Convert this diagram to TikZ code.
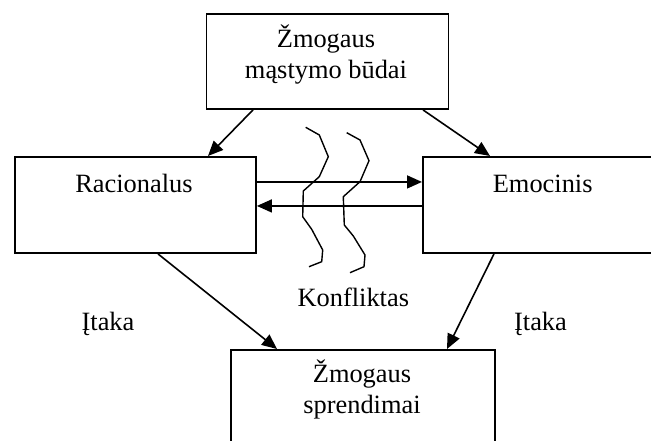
\documentclass[tikz,border=0pt]{standalone}
\usepackage{fontspec}
\setmainfont{Liberation Serif}
\usetikzlibrary{arrows.meta,calc}
\begin{document}
\begin{tikzpicture}[x=1pt,y=-1pt,
  box/.style={draw,line width=1.9pt,inner sep=0pt,anchor=north west},
  txt/.style={anchor=base,inner sep=0pt,font=\fontsize{26.4}{31}\selectfont},
  arr/.style={line width=1.6pt,-{Triangle[length=15pt,width=13pt]}},
  wave/.style={line width=1.4pt,line join=miter}]
\useasboundingbox (0,0) rectangle (651,441);
\clip (0,0) rectangle (651,441);

% boxes
\node[box,minimum width=242pt,minimum height=95pt] (top) at (205.5,13) {};
\node[box,minimum width=241pt,minimum height=96pt] (rac) at (14,156) {};
\node[box,minimum width=260pt,minimum height=96pt] (emo) at (422,156) {};
\node[box,minimum width=264pt,minimum height=130pt] (dec) at (230,349) {};

% box texts
\node[txt] (topA) at (326,48) {Žmogaus};
\node[txt] (topB) at (326,78.5) {mąstymo būdai};
\node[txt] (racT) at (134,192.3) {Racionalus};
\node[txt] (emoT) at (542.7,192.3) {Emocinis};
\node[txt] (decA) at (362,382) {Žmogaus};
\node[txt] (decB) at (362,413) {sprendimai};

% free labels
\node[txt] (konf) at (353.3,306) {Konfliktas};
\node[txt] (itL) at (108,330) {Įtaka};
\node[txt] (itR) at (540.5,330) {Įtaka};

% connectors
\draw[arr] ($(top.south west)+(47.5,0)$) -- ($(rac.north west)+(194,0)$);
\draw[arr] ($(top.south west)+(217.5,0)$) -- ($(emo.north west)+(68,0)$);
\draw[arr] ($(rac.east)+(0,-23)$) -- ($(emo.west)+(0,-23)$);
\draw[arr] ($(emo.west)+(0,1)$) -- ($(rac.east)+(0,1)$);
\draw[arr] ($(rac.south west)+(144,0)$) -- ($(dec.north west)+(47,0)$);
\draw[arr] ($(emo.south west)+(72,0)$) -- ($(dec.north west)+(217,0)$);

% conflict waves
\draw[wave] (305.7,127.3) -- (319.3,135) -- (328.3,156.7) -- (319.3,176.7)
  -- (303.3,191) -- (302.7,216.7) -- (311.7,229.3) -- (322.7,250)
  -- (321.7,261.7) -- (309,266.7);
\draw[wave] (346.7,132.7) -- (360,140) -- (369,160.7) -- (360,181.7)
  -- (343.3,196.7) -- (344.3,225) -- (353.3,236) -- (365,255)
  -- (364,266.7) -- (350,272.7);
\end{tikzpicture}
\end{document}
